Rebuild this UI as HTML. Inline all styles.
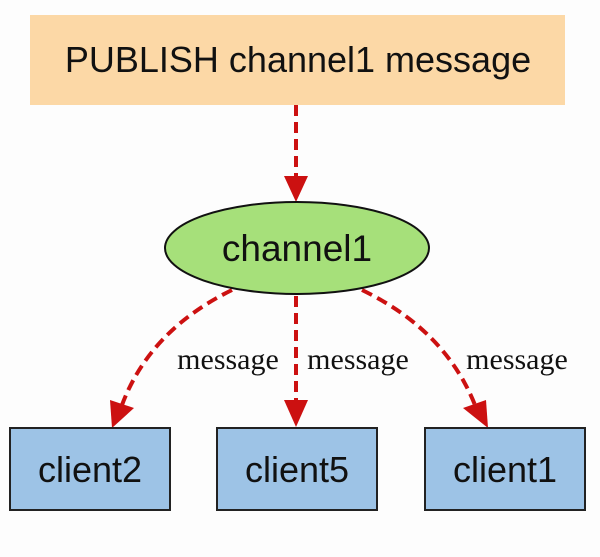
<!DOCTYPE html>
<html><head><style>body{margin:0;background:#fdfdfd}</style></head><body>
<svg width="600" height="552" xmlns="http://www.w3.org/2000/svg">
<rect width="600" height="552" fill="#fdfdfd"/>
<rect x="30" y="15" width="535" height="90" fill="#fcd8a6"/>
<text x="298" y="72" font-family="Liberation Sans, sans-serif" font-size="36" text-anchor="middle" fill="#111">PUBLISH channel1 message</text>
<g stroke="#cc1111" stroke-width="4" stroke-dasharray="11,6" fill="none">
<path d="M296 105 L296 178"/>
<path d="M296 296 L296 402"/>
<path d="M232 290 Q150 330 122 405"/>
<path d="M362 290 Q445 330 475 405"/>
</g>
<g fill="#cc1111">
<path d="M284 176 L308 176 L296 202z"/>
<path d="M284 400 L308 400 L296 427z"/>
<path d="M110 400 L134 408 L112 428z"/>
<path d="M463 408 L486 400 L488 428z"/>
</g>
<ellipse cx="297" cy="248" rx="132" ry="46" fill="#a6e07a" stroke="#111" stroke-width="2"/>
<text x="297" y="261" font-family="Liberation Sans, sans-serif" font-size="37" text-anchor="middle" fill="#111">channel1</text>
<g font-family="Liberation Serif, serif" font-size="30" fill="#111" text-anchor="middle">
<text x="228" y="369">message</text>
<text x="358" y="369">message</text>
<text x="517" y="369">message</text>
</g>
<g fill="#9dc3e6" stroke="#222" stroke-width="2">
<rect x="10" y="428" width="160" height="82"/>
<rect x="217" y="428" width="160" height="82"/>
<rect x="425" y="428" width="160" height="82"/>
</g>
<g font-family="Liberation Sans, sans-serif" font-size="36" fill="#111" text-anchor="middle">
<text x="90" y="482">client2</text>
<text x="297" y="482">client5</text>
<text x="505" y="482">client1</text>
</g>
</svg>
</body></html>
